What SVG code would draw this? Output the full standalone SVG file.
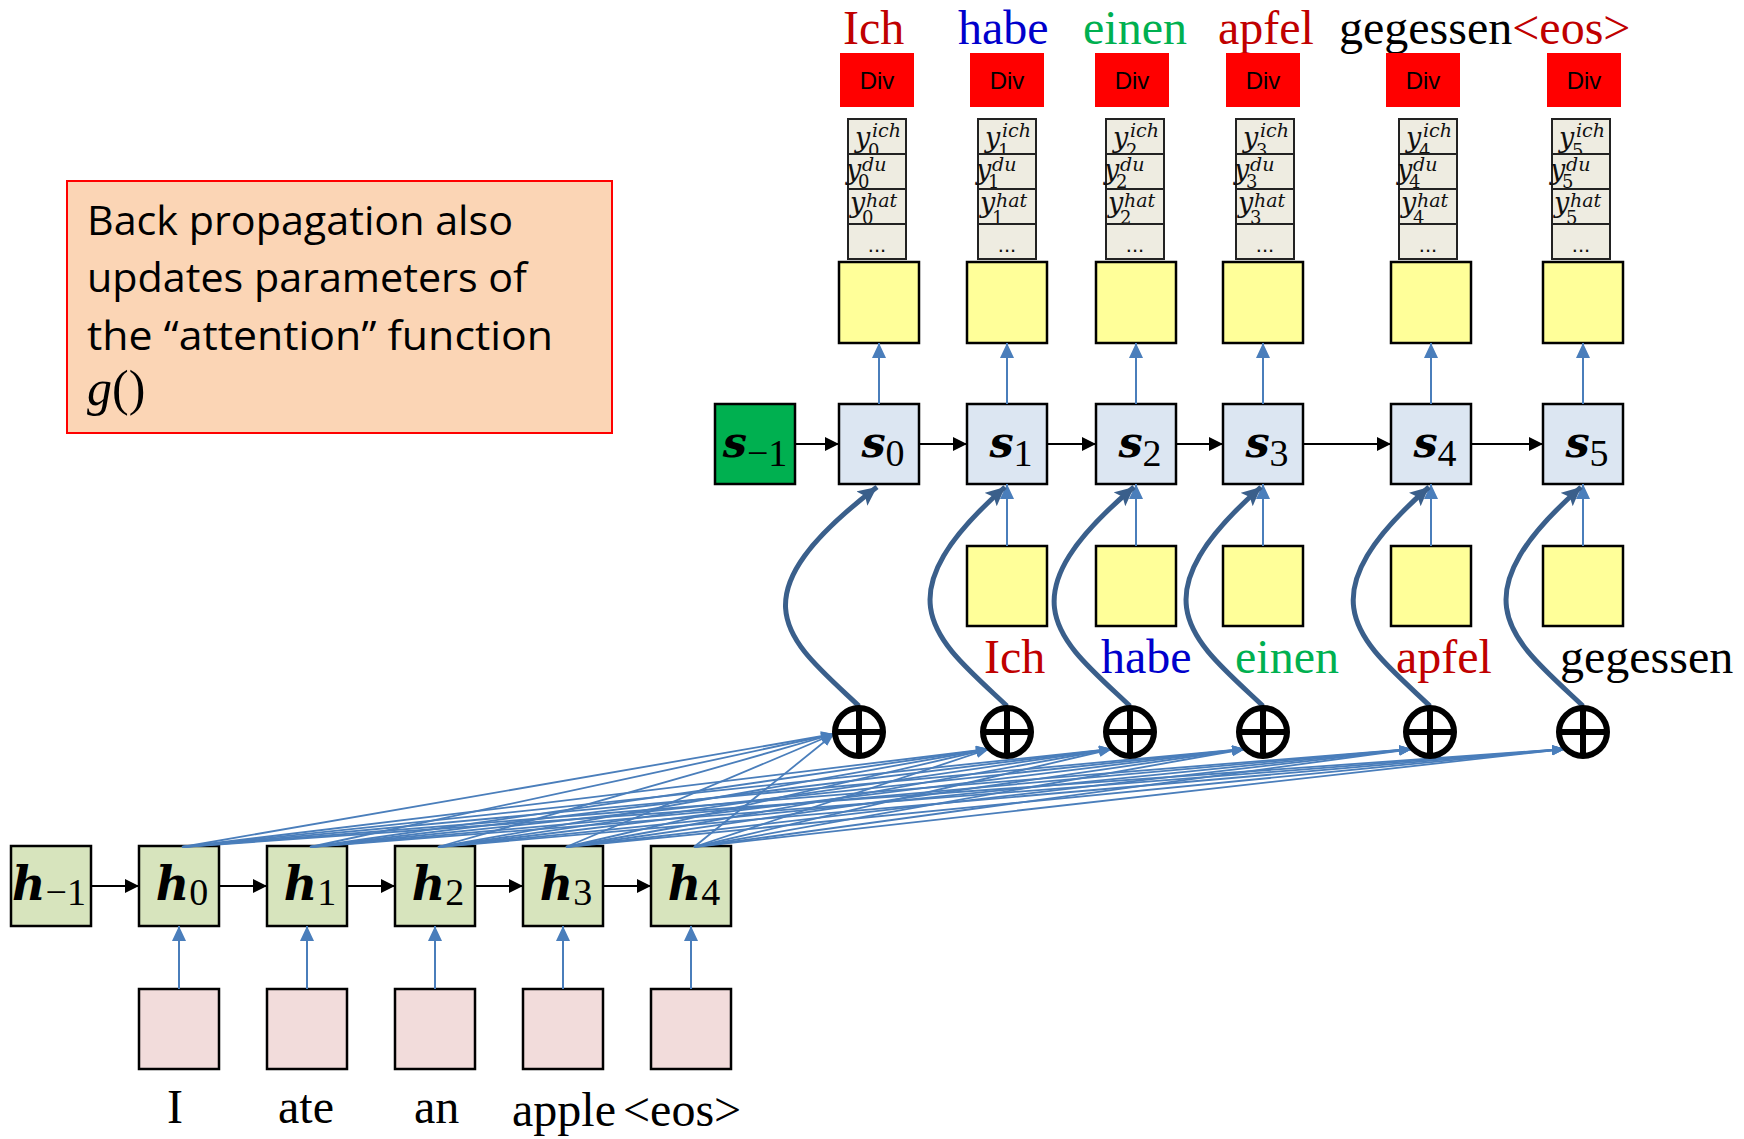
<svg xmlns="http://www.w3.org/2000/svg" width="1744" height="1139" viewBox="0 0 1744 1139">
<style>
.box{stroke:#000;stroke-width:2.5}
.sbox{fill:#dce6f2}
.hbox{fill:#d7e4bd}
.pink{fill:#f2dcdb}
.yel{fill:#ffff99}
.cell{fill:#eeece1;stroke:#222;stroke-width:2}
.div{fill:#ff0000}
.divt{font-family:"Liberation Sans",Arial,sans-serif;font-size:24px;fill:#000;text-anchor:middle}
.word{font-family:"Liberation Serif","Times New Roman",serif;font-size:48px}
.lab{font-family:"DejaVu Serif",serif;font-weight:bold;font-style:italic;font-size:43px;fill:#000;text-anchor:middle}
.hl{font-size:46px}
.sub{font-family:"Liberation Serif",serif;font-weight:normal;font-style:normal;font-size:38px}
.vy{font-family:"DejaVu Serif",serif;font-style:italic;font-size:27px;fill:#111}
.vs{font-family:"DejaVu Serif",serif;font-style:italic;font-size:19px}
.vd{font-family:"DejaVu Serif",serif;font-style:normal;font-size:18px}
.dots{font-family:"Liberation Sans",sans-serif;font-size:22px;fill:#111;text-anchor:middle}
.blk{stroke:#000;stroke-width:2.2;fill:none;marker-end:url(#ab)}
.bl{stroke:#4a7ebb;stroke-width:2;fill:none;marker-end:url(#abl)}
.fan{stroke:#4a7ebb;stroke-width:1.8;fill:none;marker-end:url(#afan)}
.thick{stroke:#3a5f8b;stroke-width:5;fill:none;marker-end:url(#ath)}
.plus{fill:#fff;stroke:#000;stroke-width:6}
.plusl{stroke:#000;stroke-width:6}
</style>
<defs>
<marker id="ab" markerUnits="userSpaceOnUse" markerWidth="16" markerHeight="16" refX="14" refY="7" orient="auto"><path d="M0,0 L14,7 L0,14 z" fill="#000"/></marker>
<marker id="abl" markerUnits="userSpaceOnUse" markerWidth="16" markerHeight="16" refX="15" refY="7" orient="auto"><path d="M0,0 L15,7 L0,14 z" fill="#4a7ebb"/></marker>
<marker id="afan" markerUnits="userSpaceOnUse" markerWidth="14" markerHeight="12" refX="13" refY="5" orient="auto"><path d="M0,0 L13,5 L0,10 z" fill="#4a7ebb"/></marker>
<marker id="ath" markerUnits="userSpaceOnUse" markerWidth="22" markerHeight="22" refX="19" refY="9" orient="auto"><path d="M0,0 L19,9 L0,18 L4,9 z" fill="#3a5f8b"/></marker>
</defs>

<g id="note">
<rect x="67" y="181" width="545" height="252" fill="#fbd5b5" stroke="#ff0000" stroke-width="2"/>
<g font-family="'Open Sans','Liberation Sans',sans-serif" font-size="40" fill="#000">
<text x="87" y="235" textLength="426" lengthAdjust="spacingAndGlyphs">Back propagation also</text>
<text x="87" y="292" textLength="440" lengthAdjust="spacingAndGlyphs">updates parameters of</text>
<text x="87" y="350" textLength="466" lengthAdjust="spacingAndGlyphs">the “attention” function</text>
</g>
<text x="87" y="405" font-family="'Liberation Serif',serif" font-size="50" fill="#000"><tspan font-style="italic">g</tspan>()</text>
</g>

<g id="top-words" class="word">
<text x="843" y="44" fill="#c00000">Ich</text>
<text x="958" y="44" fill="#0000cc">habe</text>
<text x="1083" y="44" fill="#00b050">einen</text>
<text x="1218" y="44" fill="#c00000">apfel</text>
<text x="1339" y="44" fill="#000">gegessen<tspan fill="#c00000">&lt;eos&gt;</tspan></text>
</g>

<g id="div-boxes">
<g id="div0"><rect class="div" x="840" y="53" width="74" height="54"/><text class="divt" x="877" y="89">Div</text></g>
<g id="div1"><rect class="div" x="970" y="53" width="74" height="54"/><text class="divt" x="1007" y="89">Div</text></g>
<g id="div2"><rect class="div" x="1095" y="53" width="74" height="54"/><text class="divt" x="1132" y="89">Div</text></g>
<g id="div3"><rect class="div" x="1226" y="53" width="74" height="54"/><text class="divt" x="1263" y="89">Div</text></g>
<g id="div4"><rect class="div" x="1386" y="53" width="74" height="54"/><text class="divt" x="1423" y="89">Div</text></g>
<g id="div5"><rect class="div" x="1547" y="53" width="74" height="54"/><text class="divt" x="1584" y="89">Div</text></g>
</g>

<g id="vectors">
<g id="vec0" transform="translate(848,0)">
<rect class="cell" x="0" y="119" width="58" height="35"/>
<text class="vy" x="7" y="147">y<tspan class="vd" x="20" y="157">0</tspan><tspan class="vs" x="24" y="137">ich</tspan></text>
<rect class="cell" x="0" y="154" width="58" height="35"/>
<text class="vy" x="-2" y="179">y<tspan class="vd" x="10" y="188">0</tspan><tspan class="vs" x="14" y="171">du</tspan></text>
<rect class="cell" x="0" y="189" width="58" height="35"/>
<text class="vy" x="2" y="212">y<tspan class="vd" x="14" y="224">0</tspan><tspan class="vs" x="18" y="207">hat</tspan></text>
<rect class="cell" x="0" y="224" width="58" height="35"/>
<text class="dots" x="29" y="252">...</text>
</g>
<g id="vec1" transform="translate(978,0)">
<rect class="cell" x="0" y="119" width="58" height="35"/>
<text class="vy" x="7" y="147">y<tspan class="vd" x="20" y="157">1</tspan><tspan class="vs" x="24" y="137">ich</tspan></text>
<rect class="cell" x="0" y="154" width="58" height="35"/>
<text class="vy" x="-2" y="179">y<tspan class="vd" x="10" y="188">1</tspan><tspan class="vs" x="14" y="171">du</tspan></text>
<rect class="cell" x="0" y="189" width="58" height="35"/>
<text class="vy" x="2" y="212">y<tspan class="vd" x="14" y="224">1</tspan><tspan class="vs" x="18" y="207">hat</tspan></text>
<rect class="cell" x="0" y="224" width="58" height="35"/>
<text class="dots" x="29" y="252">...</text>
</g>
<g id="vec2" transform="translate(1106,0)">
<rect class="cell" x="0" y="119" width="58" height="35"/>
<text class="vy" x="7" y="147">y<tspan class="vd" x="20" y="157">2</tspan><tspan class="vs" x="24" y="137">ich</tspan></text>
<rect class="cell" x="0" y="154" width="58" height="35"/>
<text class="vy" x="-2" y="179">y<tspan class="vd" x="10" y="188">2</tspan><tspan class="vs" x="14" y="171">du</tspan></text>
<rect class="cell" x="0" y="189" width="58" height="35"/>
<text class="vy" x="2" y="212">y<tspan class="vd" x="14" y="224">2</tspan><tspan class="vs" x="18" y="207">hat</tspan></text>
<rect class="cell" x="0" y="224" width="58" height="35"/>
<text class="dots" x="29" y="252">...</text>
</g>
<g id="vec3" transform="translate(1236,0)">
<rect class="cell" x="0" y="119" width="58" height="35"/>
<text class="vy" x="7" y="147">y<tspan class="vd" x="20" y="157">3</tspan><tspan class="vs" x="24" y="137">ich</tspan></text>
<rect class="cell" x="0" y="154" width="58" height="35"/>
<text class="vy" x="-2" y="179">y<tspan class="vd" x="10" y="188">3</tspan><tspan class="vs" x="14" y="171">du</tspan></text>
<rect class="cell" x="0" y="189" width="58" height="35"/>
<text class="vy" x="2" y="212">y<tspan class="vd" x="14" y="224">3</tspan><tspan class="vs" x="18" y="207">hat</tspan></text>
<rect class="cell" x="0" y="224" width="58" height="35"/>
<text class="dots" x="29" y="252">...</text>
</g>
<g id="vec4" transform="translate(1399,0)">
<rect class="cell" x="0" y="119" width="58" height="35"/>
<text class="vy" x="7" y="147">y<tspan class="vd" x="20" y="157">4</tspan><tspan class="vs" x="24" y="137">ich</tspan></text>
<rect class="cell" x="0" y="154" width="58" height="35"/>
<text class="vy" x="-2" y="179">y<tspan class="vd" x="10" y="188">4</tspan><tspan class="vs" x="14" y="171">du</tspan></text>
<rect class="cell" x="0" y="189" width="58" height="35"/>
<text class="vy" x="2" y="212">y<tspan class="vd" x="14" y="224">4</tspan><tspan class="vs" x="18" y="207">hat</tspan></text>
<rect class="cell" x="0" y="224" width="58" height="35"/>
<text class="dots" x="29" y="252">...</text>
</g>
<g id="vec5" transform="translate(1552,0)">
<rect class="cell" x="0" y="119" width="58" height="35"/>
<text class="vy" x="7" y="147">y<tspan class="vd" x="20" y="157">5</tspan><tspan class="vs" x="24" y="137">ich</tspan></text>
<rect class="cell" x="0" y="154" width="58" height="35"/>
<text class="vy" x="-2" y="179">y<tspan class="vd" x="10" y="188">5</tspan><tspan class="vs" x="14" y="171">du</tspan></text>
<rect class="cell" x="0" y="189" width="58" height="35"/>
<text class="vy" x="2" y="212">y<tspan class="vd" x="14" y="224">5</tspan><tspan class="vs" x="18" y="207">hat</tspan></text>
<rect class="cell" x="0" y="224" width="58" height="35"/>
<text class="dots" x="29" y="252">...</text>
</g>
</g>

<g id="out-cells">
<rect id="out0" class="box yel" x="839" y="262" width="80" height="81"/>
<rect id="out1" class="box yel" x="967" y="262" width="80" height="81"/>
<rect id="out2" class="box yel" x="1096" y="262" width="80" height="81"/>
<rect id="out3" class="box yel" x="1223" y="262" width="80" height="81"/>
<rect id="out4" class="box yel" x="1391" y="262" width="80" height="81"/>
<rect id="out5" class="box yel" x="1543" y="262" width="80" height="81"/>
</g>

<g id="decoder">
<g id="s_m1"><rect class="box" fill="#00b050" x="715" y="404" width="80" height="80"/><text class="lab" x="755" y="457">s<tspan class="sub" dy="9">−1</tspan></text></g>
<g id="s0"><rect class="box sbox" x="839" y="404" width="80" height="80"/><text class="lab" x="883" y="457">s<tspan class="sub" dy="9">0</tspan></text></g>
<g id="s1"><rect class="box sbox" x="967" y="404" width="80" height="80"/><text class="lab" x="1011" y="457">s<tspan class="sub" dy="9">1</tspan></text></g>
<g id="s2"><rect class="box sbox" x="1096" y="404" width="80" height="80"/><text class="lab" x="1140" y="457">s<tspan class="sub" dy="9">2</tspan></text></g>
<g id="s3"><rect class="box sbox" x="1223" y="404" width="80" height="80"/><text class="lab" x="1267" y="457">s<tspan class="sub" dy="9">3</tspan></text></g>
<g id="s4"><rect class="box sbox" x="1391" y="404" width="80" height="80"/><text class="lab" x="1435" y="457">s<tspan class="sub" dy="9">4</tspan></text></g>
<g id="s5"><rect class="box sbox" x="1543" y="404" width="80" height="80"/><text class="lab" x="1587" y="457">s<tspan class="sub" dy="9">5</tspan></text></g>
</g>

<g id="in-cells">
<rect id="in1" class="box yel" x="967" y="546" width="80" height="80"/>
<rect id="in2" class="box yel" x="1096" y="546" width="80" height="80"/>
<rect id="in3" class="box yel" x="1223" y="546" width="80" height="80"/>
<rect id="in4" class="box yel" x="1391" y="546" width="80" height="80"/>
<rect id="in5" class="box yel" x="1543" y="546" width="80" height="80"/>
</g>

<g id="mid-words" class="word">
<text x="984" y="673" fill="#c00000">Ich</text>
<text x="1101" y="673" fill="#0000cc">habe</text>
<text x="1235" y="673" fill="#00b050">einen</text>
<text x="1396" y="673" fill="#c00000">apfel</text>
<text x="1560" y="673" fill="#000">gegessen</text>
</g>

<g id="encoder">
<g id="h_m1"><rect class="box hbox" x="11" y="846" width="80" height="80"/><text class="lab hl" x="49" y="900">h<tspan class="sub" dy="5">−1</tspan></text></g>
<g id="h0"><rect class="box hbox" x="139" y="846" width="80" height="80"/><text class="lab hl" x="182" y="900">h<tspan class="sub" dy="5">0</tspan></text></g>
<g id="h1"><rect class="box hbox" x="267" y="846" width="80" height="80"/><text class="lab hl" x="310" y="900">h<tspan class="sub" dy="5">1</tspan></text></g>
<g id="h2"><rect class="box hbox" x="395" y="846" width="80" height="80"/><text class="lab hl" x="438" y="900">h<tspan class="sub" dy="5">2</tspan></text></g>
<g id="h3"><rect class="box hbox" x="523" y="846" width="80" height="80"/><text class="lab hl" x="566" y="900">h<tspan class="sub" dy="5">3</tspan></text></g>
<g id="h4"><rect class="box hbox" x="651" y="846" width="80" height="80"/><text class="lab hl" x="694" y="900">h<tspan class="sub" dy="5">4</tspan></text></g>
</g>

<g id="inputs">
<rect id="x0" class="box pink" x="139" y="989" width="80" height="80"/>
<rect id="x1" class="box pink" x="267" y="989" width="80" height="80"/>
<rect id="x2" class="box pink" x="395" y="989" width="80" height="80"/>
<rect id="x3" class="box pink" x="523" y="989" width="80" height="80"/>
<rect id="x4" class="box pink" x="651" y="989" width="80" height="80"/>
</g>

<g id="in-words" class="word" fill="#000">
<text x="167" y="1123">I</text>
<text x="278" y="1123">ate</text>
<text x="414" y="1123">an</text>
<text x="512" y="1126">apple</text>
<text x="623" y="1126">&lt;eos&gt;</text>
</g>

<g id="connectors">
<g id="chain-s">
<line class="blk" x1="795" y1="444" x2="839" y2="444"/>
<line class="blk" x1="919" y1="444" x2="967" y2="444"/>
<line class="blk" x1="1047" y1="444" x2="1096" y2="444"/>
<line class="blk" x1="1176" y1="444" x2="1223" y2="444"/>
<line class="blk" x1="1303" y1="444" x2="1391" y2="444"/>
<line class="blk" x1="1471" y1="444" x2="1543" y2="444"/>
</g>
<g id="chain-h">
<line class="blk" x1="91" y1="886" x2="139" y2="886"/>
<line class="blk" x1="219" y1="886" x2="267" y2="886"/>
<line class="blk" x1="347" y1="886" x2="395" y2="886"/>
<line class="blk" x1="475" y1="886" x2="523" y2="886"/>
<line class="blk" x1="603" y1="886" x2="651" y2="886"/>
</g>
<g id="up-arrows">
<line class="bl" x1="879" y1="404" x2="879" y2="343"/>
<line class="bl" x1="1007" y1="404" x2="1007" y2="343"/>
<line class="bl" x1="1136" y1="404" x2="1136" y2="343"/>
<line class="bl" x1="1263" y1="404" x2="1263" y2="343"/>
<line class="bl" x1="1431" y1="404" x2="1431" y2="343"/>
<line class="bl" x1="1583" y1="404" x2="1583" y2="343"/>
<line class="bl" x1="1007" y1="546" x2="1007" y2="484"/>
<line class="bl" x1="1136" y1="546" x2="1136" y2="484"/>
<line class="bl" x1="1263" y1="546" x2="1263" y2="484"/>
<line class="bl" x1="1431" y1="546" x2="1431" y2="484"/>
<line class="bl" x1="1583" y1="546" x2="1583" y2="484"/>
<line class="bl" x1="179" y1="989" x2="179" y2="926"/>
<line class="bl" x1="307" y1="989" x2="307" y2="926"/>
<line class="bl" x1="435" y1="989" x2="435" y2="926"/>
<line class="bl" x1="563" y1="989" x2="563" y2="926"/>
<line class="bl" x1="691" y1="989" x2="691" y2="926"/>
</g>
<g id="fan">
<line class="fan" x1="182" y1="847" x2="834" y2="734"/>
<line class="fan" x1="310" y1="847" x2="834" y2="734"/>
<line class="fan" x1="438" y1="847" x2="834" y2="734"/>
<line class="fan" x1="566" y1="847" x2="834" y2="734"/>
<line class="fan" x1="694" y1="847" x2="834" y2="734"/>
<line class="fan" x1="182" y1="847" x2="989" y2="749"/>
<line class="fan" x1="310" y1="847" x2="989" y2="749"/>
<line class="fan" x1="438" y1="847" x2="989" y2="749"/>
<line class="fan" x1="566" y1="847" x2="989" y2="749"/>
<line class="fan" x1="694" y1="847" x2="989" y2="749"/>
<line class="fan" x1="182" y1="847" x2="1112" y2="749"/>
<line class="fan" x1="310" y1="847" x2="1112" y2="749"/>
<line class="fan" x1="438" y1="847" x2="1112" y2="749"/>
<line class="fan" x1="566" y1="847" x2="1112" y2="749"/>
<line class="fan" x1="694" y1="847" x2="1112" y2="749"/>
<line class="fan" x1="182" y1="847" x2="1245" y2="749"/>
<line class="fan" x1="310" y1="847" x2="1245" y2="749"/>
<line class="fan" x1="438" y1="847" x2="1245" y2="749"/>
<line class="fan" x1="566" y1="847" x2="1245" y2="749"/>
<line class="fan" x1="694" y1="847" x2="1245" y2="749"/>
<line class="fan" x1="182" y1="847" x2="1412" y2="749"/>
<line class="fan" x1="310" y1="847" x2="1412" y2="749"/>
<line class="fan" x1="438" y1="847" x2="1412" y2="749"/>
<line class="fan" x1="566" y1="847" x2="1412" y2="749"/>
<line class="fan" x1="694" y1="847" x2="1412" y2="749"/>
<line class="fan" x1="182" y1="847" x2="1565" y2="749"/>
<line class="fan" x1="310" y1="847" x2="1565" y2="749"/>
<line class="fan" x1="438" y1="847" x2="1565" y2="749"/>
<line class="fan" x1="566" y1="847" x2="1565" y2="749"/>
<line class="fan" x1="694" y1="847" x2="1565" y2="749"/>
</g>
<g id="context-arrows">
<path class="thick" d="M859 706 C789 640 729 600 877 487"/>
<path class="thick" d="M1007 706 C937 640 877 600 1005 487"/>
<path class="thick" d="M1130 706 C1060 640 1000 600 1134 487"/>
<path class="thick" d="M1263 706 C1193 640 1133 600 1261 487"/>
<path class="thick" d="M1430 706 C1360 640 1300 600 1429 487"/>
<path class="thick" d="M1583 706 C1513 640 1453 600 1581 487"/>
</g>
</g>

<g id="sums">
<g id="sum0"><circle class="plus" cx="859" cy="732" r="24"/><line class="plusl" x1="859" y1="708" x2="859" y2="756"/><line class="plusl" x1="835" y1="732" x2="883" y2="732"/></g>
<g id="sum1"><circle class="plus" cx="1007" cy="732" r="24"/><line class="plusl" x1="1007" y1="708" x2="1007" y2="756"/><line class="plusl" x1="983" y1="732" x2="1031" y2="732"/></g>
<g id="sum2"><circle class="plus" cx="1130" cy="732" r="24"/><line class="plusl" x1="1130" y1="708" x2="1130" y2="756"/><line class="plusl" x1="1106" y1="732" x2="1154" y2="732"/></g>
<g id="sum3"><circle class="plus" cx="1263" cy="732" r="24"/><line class="plusl" x1="1263" y1="708" x2="1263" y2="756"/><line class="plusl" x1="1239" y1="732" x2="1287" y2="732"/></g>
<g id="sum4"><circle class="plus" cx="1430" cy="732" r="24"/><line class="plusl" x1="1430" y1="708" x2="1430" y2="756"/><line class="plusl" x1="1406" y1="732" x2="1454" y2="732"/></g>
<g id="sum5"><circle class="plus" cx="1583" cy="732" r="24"/><line class="plusl" x1="1583" y1="708" x2="1583" y2="756"/><line class="plusl" x1="1559" y1="732" x2="1607" y2="732"/></g>
</g>
</svg>
